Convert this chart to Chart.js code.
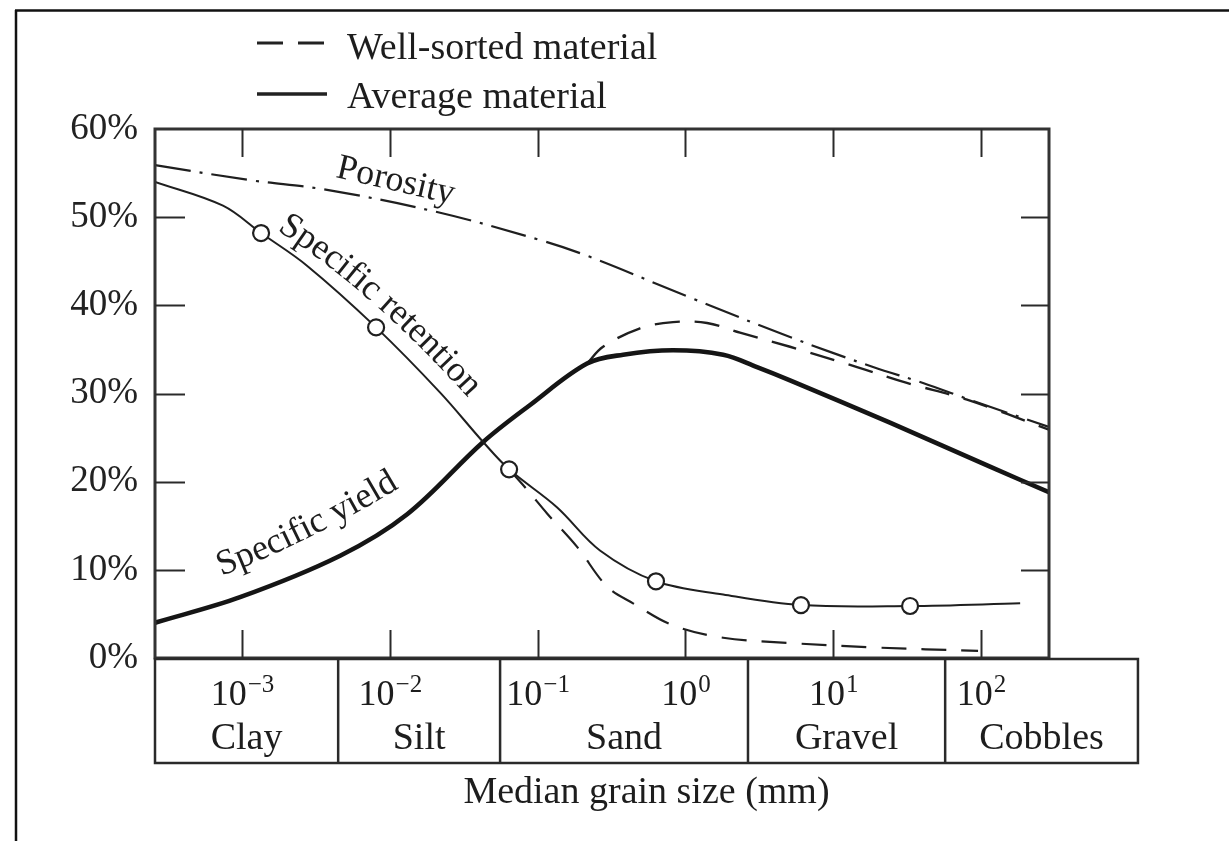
<!DOCTYPE html>
<html>
<head>
<meta charset="utf-8">
<title>Porosity, specific yield and specific retention vs. grain size</title>
<script src="https://cdn.jsdelivr.net/npm/chart.js@4.4.1/dist/chart.umd.min.js"></script>
<style>
  html, body { margin: 0; padding: 0; background: #ffffff; }
  canvas { display: block; }
</style>
</head>
<body>
<canvas id="chart" width="1229" height="841"></canvas>
<script>
// ---- Data: median grain size (mm) and percentage of total volume ----
const porositySize = [0.000258, 0.00113, 0.00376, 0.0219, 0.104, 0.226, 1.07, 5.10, 18.6, 40.5, 80.4, 288];
const porosityPct  = [55.9, 54.2, 53.1, 50.5, 47.4, 45.5, 40.9, 36.4, 33.0, 31.2, 29.4, 26.2];

const yieldSize = [0.000258, 0.000969, 0.00461, 0.0131, 0.0428, 0.0889, 0.216, 0.379, 0.824, 1.80, 3.05, 5.10, 24.2, 115, 288];
const yieldPct  = [4.0, 6.9, 11.6, 16.3, 24.5, 28.7, 33.4, 34.4, 34.9, 34.4, 33.0, 31.5, 26.7, 21.7, 18.8];

const yieldWellSize = [0.216, 0.277, 0.493, 0.824, 1.40, 2.34, 5.10, 14.5, 31.5, 80.4, 288];
const yieldWellPct  = [33.4, 35.3, 37.4, 38.1, 38.0, 36.9, 35.3, 33.0, 31.2, 29.3, 25.9];

const retentionSize = [0.000258, 0.000743, 0.001345, 0.00275, 0.00807, 0.0219, 0.0428, 0.0641, 0.135, 0.264, 0.632, 1.80, 6.05, 33.1, 184];
const retentionPct  = [54.0, 51.3, 48.2, 44.5, 37.5, 30.1, 24.5, 21.4, 17.1, 12.2, 8.7, 7.2, 6.0, 5.9, 6.2];
const retentionSampled = [2, 4, 7, 10, 12, 13];   // indices shown as open circles

const retentionWellSize = [0.0641, 0.0848, 0.1158, 0.185, 0.295, 0.442, 0.824, 1.80, 5.10, 18.6, 95.5];
const retentionWellPct  = [21.4, 19.1, 16.4, 12.6, 8.1, 6.2, 3.7, 2.3, 1.7, 1.2, 0.8];

// ---- Axis and class labels ----
const yTicks = [0, 10, 20, 30, 40, 50, 60];
const decadeExps = [-3, -2, -1, 0, 1, 2];
const classNames = ['Clay', 'Silt', 'Sand', 'Gravel', 'Cobbles'];
const classLimits = [0.0002576, 0.00447, 0.0557, 2.65, 57.2, 1153];
const legendLabels = ['Well-sorted material', 'Average material'];
const axisTitle = 'Median grain size (mm)';

const X_MIN = 0.0002576;
const X_MAX = 288.4;

const SERIF = '"Liberation Serif", "DejaVu Serif", "Times New Roman", serif';
const INK = '#1d1d1d';

const pairs = (xs, ys) => xs.map((g, i) => ({ x: g, y: ys[i] }));

// ---- Curve name labels, anchored in data units (grain size, %) ----
const curveLabels = [
  { text: 'Porosity',           path: [[0.00426, 54.55], [0.0262, 51.5]] },
  { text: 'Specific retention', path: [[0.00172, 48.5], [0.0085, 39.6], [0.046, 27.0]] },
  { text: 'Specific yield',     path: [[0.000725, 9.3], [0.00302, 13.9], [0.01300, 19.8]] }
];

function samplePath(pts) {
  if (pts.length === 2) return pts;
  const [a, m, b] = pts;
  const c = [2 * m[0] - (a[0] + b[0]) / 2, 2 * m[1] - (a[1] + b[1]) / 2];
  const out = [];
  for (let i = 0; i <= 48; i++) {
    const t = i / 48, u = 1 - t;
    out.push([u * u * a[0] + 2 * u * t * c[0] + t * t * b[0],
              u * u * a[1] + 2 * u * t * c[1] + t * t * b[1]]);
  }
  return out;
}

function pointAt(poly, s) {
  let acc = 0;
  for (let i = 1; i < poly.length; i++) {
    const dx = poly[i][0] - poly[i - 1][0], dy = poly[i][1] - poly[i - 1][1];
    const len = Math.hypot(dx, dy);
    if (acc + len >= s || i === poly.length - 1) {
      const t = (s - acc) / len;
      return { x: poly[i - 1][0] + dx * t, y: poly[i - 1][1] + dy * t, ang: Math.atan2(dy, dx) };
    }
    acc += len;
  }
}

function drawTextOnPath(ctx, text, poly) {
  ctx.textAlign = 'left';
  ctx.textBaseline = 'alphabetic';
  for (let i = 0; i < text.length; i++) {
    const ch = text[i];
    const s0 = ctx.measureText(text.slice(0, i)).width;
    const w = ctx.measureText(ch).width;
    const p = pointAt(poly, s0 + w / 2);
    ctx.save();
    ctx.translate(p.x, p.y);
    ctx.rotate(p.ang);
    ctx.fillText(ch, -w / 2, 0);
    ctx.restore();
  }
}

function line(ctx, x1, y1, x2, y2) {
  ctx.beginPath(); ctx.moveTo(x1, y1); ctx.lineTo(x2, y2); ctx.stroke();
}

// ---- Frame, inward ticks, size-class table, legend and curve names ----
const decorations = {
  id: 'decorations',
  afterDraw(chart) {
    const ctx = chart.ctx;
    const { left, right, top, bottom } = chart.chartArea;
    const xs = chart.scales.x, ys = chart.scales.y;
    ctx.save();

    // outer page frame
    ctx.strokeStyle = '#111';
    ctx.lineWidth = 2.5;
    line(ctx, 15, 10.5, 1229, 10.5);
    line(ctx, 16, 10, 16, 841);

    // plot box
    ctx.strokeStyle = '#333';
    ctx.lineWidth = 3;
    ctx.strokeRect(left, top, right - left, bottom - top);

    // inward ticks
    ctx.strokeStyle = '#2a2a2a';
    ctx.lineWidth = 2;
    decadeExps.forEach(k => {
      const px = Math.round(xs.getPixelForValue(Math.pow(10, k))) + 0.5;
      line(ctx, px, top, px, top + 28);
      line(ctx, px, bottom - 28, px, bottom);
    });
    yTicks.filter(v => v > 0 && v < 60).forEach(v => {
      const py = Math.round(ys.getPixelForValue(v)) + 0.5;
      line(ctx, left, py, left + 30, py);
      line(ctx, right - 28, py, right, py);
    });

    // size-class table under the plot
    const tTop = bottom + 1, tBot = bottom + 105;
    const bx = classLimits.map(g => xs.getPixelForValue(g));
    ctx.strokeStyle = '#2a2a2a';
    ctx.lineWidth = 2.5;
    ctx.strokeRect(bx[0], tTop, bx[bx.length - 1] - bx[0], tBot - tTop);
    for (let i = 1; i < bx.length - 1; i++) line(ctx, bx[i], tTop, bx[i], tBot);

    ctx.fillStyle = INK;
    ctx.textBaseline = 'alphabetic';
    // decade labels 10^n
    decadeExps.forEach(k => {
      const px = xs.getPixelForValue(Math.pow(10, k));
      const sup = k < 0 ? '\u2212' + (-k) : String(k);
      ctx.font = '36px ' + SERIF;
      const wb = ctx.measureText('10').width;
      ctx.font = '25px ' + SERIF;
      const ws = ctx.measureText(sup).width;
      const x0 = px - (wb + ws) / 2;
      ctx.textAlign = 'left';
      ctx.font = '36px ' + SERIF;
      ctx.fillText('10', x0, tTop + 46);
      ctx.font = '25px ' + SERIF;
      ctx.fillText(sup, x0 + wb + 1, tTop + 33);
    });
    // class names
    ctx.font = '38px ' + SERIF;
    ctx.textAlign = 'center';
    classNames.forEach((name, i) => {
      ctx.fillText(name, (bx[i] + bx[i + 1]) / 2, tTop + 90);
    });
    // axis title
    ctx.fillText(axisTitle, (bx[0] + bx[bx.length - 1]) / 2, 803);

    // legend
    ctx.strokeStyle = '#222';
    ctx.lineWidth = 3;
    ctx.setLineDash([26, 15]);
    line(ctx, 257, 43, 327, 43);
    ctx.setLineDash([]);
    ctx.lineWidth = 3.5;
    line(ctx, 257, 94, 327, 94);
    ctx.textAlign = 'left';
    ctx.fillText(legendLabels[0], 347, 59);
    ctx.fillText(legendLabels[1], 347, 108);

    // curve names
    ctx.font = '36px ' + SERIF;
    curveLabels.forEach(lbl => {
      const px = lbl.path.map(p => [xs.getPixelForValue(p[0]), ys.getPixelForValue(p[1])]);
      drawTextOnPath(ctx, lbl.text, samplePath(px));
    });

    ctx.restore();
  }
};

const baseLine = {
  fill: false,
  pointRadius: 0,
  pointHoverRadius: 0,
  tension: 0.35,
  borderCapStyle: 'butt'
};

new Chart(document.getElementById('chart'), {
  type: 'line',
  data: {
    datasets: [
      Object.assign({}, baseLine, {
        label: 'Specific retention',
        data: pairs(retentionSize, retentionPct),
        borderColor: '#1f1f1f',
        borderWidth: 2,
        pointRadius: c => retentionSampled.includes(c.dataIndex) ? 8 : 0,
        pointBorderWidth: 2.2,
        pointBorderColor: '#1f1f1f',
        pointBackgroundColor: '#ffffff'
      }),
      Object.assign({}, baseLine, {
        label: 'Specific retention (well-sorted)',
        data: pairs(retentionWellSize, retentionWellPct),
        borderColor: '#1f1f1f',
        borderWidth: 2.2,
        borderDash: [25, 15]
      }),
      Object.assign({}, baseLine, {
        label: 'Specific yield',
        data: pairs(yieldSize, yieldPct),
        borderColor: '#151515',
        borderWidth: 4.6
      }),
      Object.assign({}, baseLine, {
        label: 'Specific yield (well-sorted)',
        data: pairs(yieldWellSize, yieldWellPct),
        borderColor: '#1f1f1f',
        borderWidth: 2.4,
        borderDash: [25, 15]
      }),
      Object.assign({}, baseLine, {
        label: 'Porosity',
        data: pairs(porositySize, porosityPct),
        borderColor: '#1f1f1f',
        borderWidth: 2.2,
        borderDash: [36, 9, 3, 9]
      })
    ]
  },
  options: {
    responsive: false,
    animation: false,
    events: [],
    layout: { padding: { top: 129, right: 180, left: 0, bottom: 0 } },
    scales: {
      x: {
        type: 'logarithmic',
        min: X_MIN,
        max: X_MAX,
        grid: { display: false, drawTicks: false },
        border: { display: false },
        ticks: { display: false },
        afterFit: s => { s.height = 183; }
      },
      y: {
        min: 0,
        max: 60,
        afterBuildTicks: s => { s.ticks = yTicks.map(v => ({ value: v })); },
        ticks: {
          autoSkip: false,
          padding: 17,
          color: '#222',
          font: { family: SERIF, size: 37 },
          callback: v => v + '%'
        },
        grid: { display: false, drawTicks: false },
        border: { display: false },
        afterFit: s => { s.width = 155; }
      }
    },
    plugins: {
      legend: { display: false },
      tooltip: { enabled: false }
    }
  },
  plugins: [decorations]
});
</script>
</body>
</html>
